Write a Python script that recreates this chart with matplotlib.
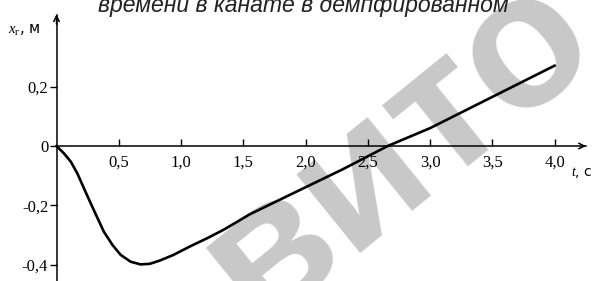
import matplotlib
matplotlib.use("Agg")
import matplotlib.pyplot as plt

# === DATA ===
t_s = [0, 0.06, 0.115, 0.167, 0.22, 0.275, 0.33, 0.38, 0.45, 0.515, 0.595, 0.675,
       0.75, 0.83, 0.94, 1.07, 1.21, 1.34, 1.47, 1.55, 1.88, 2.3, 2.66, 3.0, 3.5, 4.0]
x_m = [0, -0.025, -0.053, -0.092, -0.142, -0.193, -0.243, -0.288, -0.333, -0.366, -0.389, -0.398,
       -0.396, -0.385, -0.366, -0.338, -0.31, -0.282, -0.25, -0.23, -0.163, -0.078, 0, 0.06, 0.165, 0.27]

xticks = [0.5, 1.0, 1.5, 2.0, 2.5, 3.0, 3.5, 4.0]
xtick_labels = ["0,5", "1,0", "1,5", "2,0", "2,5", "3,0", "3,5", "4,0"]
yticks = [0.2, 0.0, -0.2, -0.4]
ytick_labels = ["0,2", "0", "-0,2", "-0,4"]

title = "времени в канате в демпфированном"
watermark = "вито"

plt.rcParams['mathtext.fontset'] = 'custom'
plt.rcParams['mathtext.rm'] = 'Liberation Serif'
plt.rcParams['mathtext.it'] = 'Liberation Serif:italic'

fig = plt.figure(figsize=(5.95, 2.81), dpi=100)
ax = fig.add_axes([0, 0, 1, 1])
ax.set_xlim(-0.454, 4.325)
ax.set_ylim(-0.4538, 0.4908)

# watermark (under the axes lines and the curve)
ax.text(398 / 595, 1 - 148 / 281, watermark, fontsize=138, fontweight='bold',
        family='Liberation Sans', color='#c8c8c8', rotation=39,
        ha='center', va='center', rotation_mode='anchor', zorder=1,
        transform=fig.transFigure)

# axes through the origin
for s in ['top', 'right']:
    ax.spines[s].set_visible(False)
ax.spines['left'].set_position(('data', 0))
ax.spines['bottom'].set_position(('data', 0))
ax.spines['left'].set_bounds(-0.4538, 0.44)
ax.spines['bottom'].set_bounds(0, 4.25)
ax.spines['left'].set_linewidth(1.1)
ax.spines['bottom'].set_linewidth(1.1)
ax.annotate("", xy=(0, 0.452), xytext=(0, 0.40),
            arrowprops=dict(arrowstyle='->', lw=1.1, color='black'))
ax.annotate("", xy=(4.275, 0), xytext=(4.2, 0),
            arrowprops=dict(arrowstyle='->', lw=1.1, color='black'))

ax.set_xticks(xticks)
ax.set_xticklabels(xtick_labels, family='Liberation Serif', fontsize=12)
ax.set_yticks(yticks)
ax.set_yticklabels(ytick_labels, family='Liberation Serif', fontsize=12)
ax.tick_params(axis='x', direction='in', length=5, width=1, pad=6)
ax.tick_params(axis='y', direction='out', length=5, width=1, pad=1)

ax.plot(t_s, x_m, color='black', lw=1.9, zorder=3, clip_on=False)

# axis labels
ax.text(-0.26, 0.39, r"$x_{\mathrm{г}}$, м", fontsize=10.5, ha='center', va='center')
ax.text(4.22, -0.09, r"$t$, с", fontsize=10, ha='center', va='center')

fig.text(303 / 595, 1 - 12 / 281, title, fontsize=16.6, style='italic',
         family='Liberation Sans', color='#222222', ha='center', va='baseline')

fig.savefig("out.png", dpi=100)
